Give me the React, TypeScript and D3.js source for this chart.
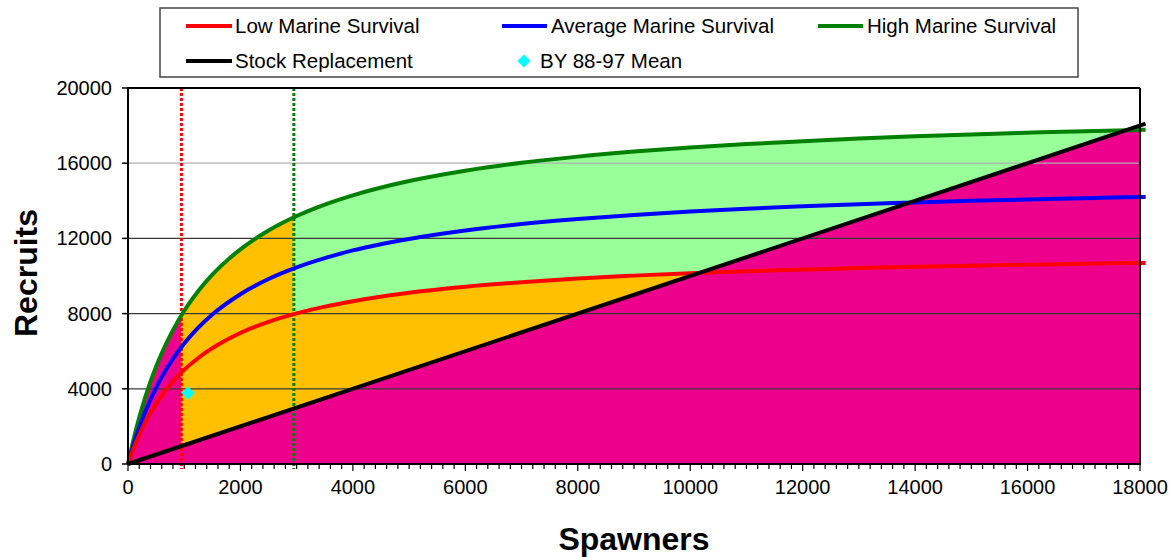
import React from "react"
import * as d3 from "d3"

// values
const spawners = [
  0, 100, 200, 300, 400, 500, 600, 800, 1000, 1250, 1500, 2000, 2500, 3000, 3500, 4000,
  5000, 6000, 7000, 8000, 9000, 10000, 11000, 12000, 13000, 14000, 15000, 16000, 17000,
  18000, 18100,
]
const lowSurvival = [
  0, 830, 1540, 2170, 2720, 3210, 3640, 4390, 5010, 5640, 6160, 6970, 7560, 8010, 8370, 8660,
  9110, 9430, 9670, 9870, 10020, 10150, 10250, 10340, 10420, 10490, 10550, 10600, 10650,
  10690, 10690,
]
const avgSurvival = [
  0, 1030, 1930, 2720, 3420, 4050, 4620, 5600, 6410, 7250, 7950, 9030, 9840, 10460, 10950,
  11360, 11970, 12420, 12760, 13030, 13250, 13430, 13580, 13710, 13820, 13910, 14000, 14070,
  14140, 14200, 14200,
]
const highSurvival = [
  0, 1320, 2470, 3480, 4380, 5180, 5890, 7120, 8150, 9200, 10070, 11420, 12420, 13190, 13800,
  14290, 15050, 15600, 16020, 16350, 16620, 16840, 17020, 17170, 17310, 17430, 17530, 17620,
  17700, 17770, 17780,
]
const replacementSpawners = [0, 18100]
const replacementRecruits = [0, 18100]
const meanSpawners = [1070]
const meanRecruits = [3770]
const escapementLines = [
  { spawners: 950, color: "#ff0000" },
  { spawners: 2950, color: "#008000" },
]
const xTicks = [0, 2000, 4000, 6000, 8000, 10000, 12000, 14000, 16000, 18000]
const yTicks = [0, 4000, 8000, 12000, 16000, 20000]

const W = 1175
const H = 557
const left = 128
const right = 1140
const top = 88
const bottom = 464

const MAGENTA = "#ec008c"
const ORANGE = "#ffc000"
const LIGHTGREEN = "#99ff99"
const font = "Arial, 'Liberation Sans', sans-serif"

export default function App() {
  const x = d3.scaleLinear().domain([0, 18000]).range([left, right])
  const y = d3.scaleLinear().domain([0, 20000]).range([bottom, top])

  const area = d3
    .area<number>()
    .x((_, i) => x(spawners[i]))
    .y0(y(0))
    .y1((d) => y(d))
    .curve(d3.curveMonotoneX)
  const line = d3
    .line<number>()
    .x((_, i) => x(spawners[i]))
    .y((d) => y(d))
    .curve(d3.curveMonotoneX)
  const replLine = d3
    .line<number>()
    .x((_, i) => x(replacementSpawners[i]))
    .y((d) => y(d))
  const replArea = d3
    .area<number>()
    .x((_, i) => x(replacementSpawners[i]))
    .y0(y(0))
    .y1((d) => y(d))

  const xLow = x(escapementLines[0].spawners)
  const xHigh = x(escapementLines[1].spawners)
  const minorTicks = d3.range(0, 18001, 200)
  const diamond = d3.symbol(d3.symbolDiamond2, 110)()

  const legendY1 = 26
  const legendY2 = 61

  return (
    <svg
      width={W}
      height={H}
      style={{ position: "absolute", left: 0, top: 0, display: "block", background: "#fff" }}
      fontFamily={font}
    >
      <defs>
        <clipPath id="plot">
          <rect x={left} y={top} width={right - left} height={bottom - top} />
        </clipPath>
        <clipPath id="zoneA">
          <rect x={left} y={top} width={xLow - left} height={bottom - top} />
        </clipPath>
        <clipPath id="zoneB">
          <rect x={xLow} y={top} width={xHigh - xLow} height={bottom - top} />
        </clipPath>
        <clipPath id="zoneC">
          <rect x={xHigh} y={top} width={right - xHigh} height={bottom - top} />
        </clipPath>
      </defs>

      {/* fills */}
      <path d={area(highSurvival) || ""} fill={LIGHTGREEN} clipPath="url(#zoneC)" />
      <path d={area(highSurvival) || ""} fill={ORANGE} clipPath="url(#zoneB)" />
      <path d={area(lowSurvival) || ""} fill={ORANGE} clipPath="url(#zoneC)" />
      <path d={area(highSurvival) || ""} fill={MAGENTA} clipPath="url(#zoneA)" />
      <path d={replArea(replacementRecruits) || ""} fill={MAGENTA} clipPath="url(#plot)" />

      {/* grid */}
      {yTicks.slice(1, -1).map((t) => (
        <line
          key={t}
          x1={left}
          x2={right}
          y1={y(t)}
          y2={y(t)}
          stroke={t === 16000 ? "#b0b0b0" : "#3a3a3a"}
          strokeWidth={1.2}
        />
      ))}

      {/* escapement goals */}
      {escapementLines.map((e) => (
        <line
          key={e.spawners}
          x1={x(e.spawners)}
          x2={x(e.spawners)}
          y1={top}
          y2={bottom + 5}
          stroke={e.color}
          strokeWidth={3}
          strokeDasharray="3 2"
        />
      ))}

      {/* curves */}
      <path d={line(highSurvival) || ""} fill="none" stroke="#008000" strokeWidth={4} />
      <path d={line(avgSurvival) || ""} fill="none" stroke="#0000ff" strokeWidth={4} />
      <path d={line(lowSurvival) || ""} fill="none" stroke="#ff0000" strokeWidth={4} />
      <path d={replLine(replacementRecruits) || ""} fill="none" stroke="#000" strokeWidth={4} />

      {meanSpawners.map((s, i) => (
        <path
          key={s}
          d={diamond || ""}
          transform={`translate(${x(s)},${y(meanRecruits[i])})`}
          fill="#00ffff"
        />
      ))}

      {/* plot frame */}
      <line x1={left} x2={right} y1={top} y2={top} stroke="#000" strokeWidth={2} />
      <line x1={right} x2={right} y1={top} y2={bottom} stroke="#000" strokeWidth={2} />
      <line x1={left} x2={left} y1={top - 1} y2={bottom} stroke="#000" strokeWidth={2} />
      <line x1={left - 1} x2={right + 1} y1={bottom} y2={bottom} stroke="#000" strokeWidth={2} />

      {/* y axis */}
      {yTicks.map((t) => (
        <g key={t}>
          <line x1={left - 6} x2={left} y1={y(t)} y2={y(t)} stroke="#000" strokeWidth={1.5} />
          <text x={left - 16} y={y(t) + 7} textAnchor="end" fontSize={20} fill="#000">
            {t}
          </text>
        </g>
      ))}

      {/* x axis */}
      {minorTicks.map((t) => (
        <line
          key={t}
          x1={x(t)}
          x2={x(t)}
          y1={bottom}
          y2={bottom + (t % 2000 === 0 ? 7 : 5)}
          stroke="#000"
          strokeWidth={1.2}
        />
      ))}
      {xTicks.map((t) => (
        <text key={t} x={x(t)} y={494} textAnchor="middle" fontSize={20} fill="#000">
          {t}
        </text>
      ))}

      {/* titles */}
      <text x={634} y={550} textAnchor="middle" fontSize={32} fontWeight="bold">
        Spawners
      </text>
      <text
        transform="translate(37,273) rotate(-90)"
        textAnchor="middle"
        fontSize={32}
        fontWeight="bold"
      >
        Recruits
      </text>

      {/* legend */}
      <rect x={160} y={8} width={918} height={69} fill="#fff" stroke="#444" strokeWidth={1.5} />
      <g fontSize={20.5}>
        <line x1={186} x2={232} y1={legendY1} y2={legendY1} stroke="#ff0000" strokeWidth={4} />
        <text x={235} y={legendY1 + 7}>Low Marine Survival</text>
        <line x1={502} x2={547} y1={legendY1} y2={legendY1} stroke="#0000ff" strokeWidth={4} />
        <text x={551} y={legendY1 + 7}>Average Marine Survival</text>
        <line x1={818} x2={863} y1={legendY1} y2={legendY1} stroke="#008000" strokeWidth={4} />
        <text x={867} y={legendY1 + 7}>High Marine Survival</text>
        <line x1={186} x2={232} y1={legendY2} y2={legendY2} stroke="#000" strokeWidth={4} />
        <text x={235} y={legendY2 + 7}>Stock Replacement</text>
        <path d={diamond || ""} transform={`translate(524,${legendY2})`} fill="#00ffff" />
        <text x={540} y={legendY2 + 7}>BY 88-97 Mean</text>
      </g>
    </svg>
  )
}
